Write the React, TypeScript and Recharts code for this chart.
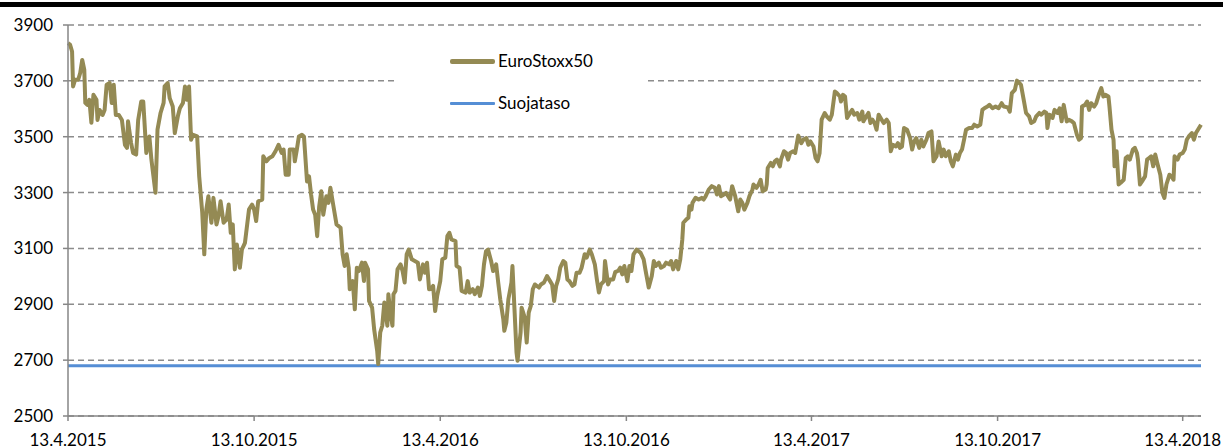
import { LineChart, Line, XAxis, YAxis, CartesianGrid, Legend } from 'recharts';

// päivät alkaen 13.4.2015
const days = [
  0, 2, 4, 5, 7, 10, 12, 14, 16, 17, 19, 21, 23, 25, 28, 29, 31, 34, 36, 38, 41, 43, 45, 47, 50, 53, 56, 58, 59, 62,
  64, 67, 69, 72, 74, 77, 80, 82, 86, 88, 91, 94, 95, 98, 100, 103, 105, 108, 110, 113, 115, 117, 119, 121, 123, 127,
  129, 132, 134, 136, 138, 141, 143, 146, 148, 150, 153, 156, 158, 160, 162, 164, 166, 169, 171, 174, 178, 181, 183,
  185, 187, 191, 192, 195, 198, 201, 204, 207, 210, 212, 214, 217, 218, 222, 223, 225, 227, 230, 232, 235, 237, 239,
  241, 243, 245, 247, 249, 251, 254, 256, 258, 261, 264, 268, 270, 272, 274, 276, 277, 280, 282, 284, 286, 289, 291,
  292, 295, 296, 299, 301, 304, 305, 307, 309, 311, 314, 315, 317, 319, 320, 322, 324, 327, 329, 331, 333, 335, 338,
  341, 344, 346, 349, 351, 353, 355, 357, 359, 361, 363, 366, 368, 371, 373, 375, 377, 381, 382, 385, 387, 391, 393,
  395, 398, 400, 403, 405, 407, 409, 411, 413, 416, 418, 421, 423, 425, 428, 429, 431, 433, 436, 437, 439, 441, 442,
  445, 446, 449, 451, 453, 455, 457, 459, 463, 465, 468, 471, 474, 476, 478, 480, 482, 484, 487, 489, 491, 493, 496,
  498, 500, 503, 505, 508, 510, 513, 515, 518, 520, 522, 524, 527, 528, 531, 533, 536, 538, 541, 543, 545, 547, 550,
  552, 554, 556, 559, 563, 566, 568, 571, 574, 576, 578, 581, 583, 586, 588, 591, 593, 595, 598, 600, 602, 604, 605,
  608, 610, 611, 613, 614, 617, 620, 623, 625, 627, 630, 633, 636, 638, 640, 642, 645, 647, 649, 651, 653, 656, 657,
  659, 661, 663, 665, 668, 670, 673, 674, 677, 679, 681, 683, 686, 687, 688, 691, 693, 695, 697, 700, 701, 704, 706,
  708, 710, 713, 715, 717, 718, 721, 723, 726, 728, 730, 733, 735, 737, 739, 741, 744, 746, 749, 751, 754, 756, 759,
  760, 762, 764, 766, 769, 771, 773, 776, 778, 781, 782, 785, 787, 789, 791, 793, 795, 797, 800, 802, 805, 807, 809,
  811, 814, 816, 818, 820, 822, 825, 828, 830, 832, 834, 837, 839, 841, 844, 846, 849, 851, 854, 856, 859, 861, 863,
  866, 868, 870, 873, 875, 877, 879, 881, 883, 886, 889, 891, 894, 897, 899, 901, 904, 906, 909, 912, 915, 918, 920,
  924, 926, 928, 931, 933, 935, 937, 940, 942, 945, 947, 950, 952, 955, 957, 960, 962, 963, 965, 968, 970, 973, 975,
  977, 979, 982, 984, 987, 989, 992, 994, 996, 997, 1000, 1002, 1004, 1006, 1009, 1011, 1014, 1016, 1018, 1020, 1023,
  1024, 1026, 1028, 1029, 1031, 1033, 1035, 1038, 1040, 1042, 1044, 1047, 1049, 1051, 1052, 1054, 1056, 1059, 1061,
  1063, 1065, 1067, 1069, 1071, 1074, 1076, 1078, 1080, 1083, 1085, 1087, 1088, 1091, 1093, 1096, 1098, 1100, 1102,
  1105, 1107, 1109, 1111, 1114,
];

const euroStoxx50 = [
  3835, 3830, 3805, 3680, 3704, 3704, 3728, 3775, 3740, 3621, 3614, 3632, 3550, 3650, 3632, 3560, 3596, 3578, 3596,
  3686, 3692, 3621, 3686, 3578, 3578, 3560, 3471, 3460, 3555, 3478, 3442, 3436, 3560, 3626, 3626, 3442, 3501, 3418,
  3299, 3525, 3585, 3621, 3680, 3692, 3638, 3608, 3513, 3573, 3602, 3621, 3680, 3632, 3680, 3489, 3507, 3501, 3358,
  3228, 3079, 3239, 3287, 3192, 3281, 3186, 3216, 3269, 3192, 3204, 3257, 3156, 3186, 3025, 3114, 3031, 3096, 3120,
  3240, 3257, 3239, 3198, 3269, 3275, 3430, 3412, 3424, 3430, 3448, 3471, 3442, 3454, 3364, 3364, 3454, 3454, 3412,
  3454, 3501, 3507, 3501, 3340, 3358, 3293, 3239, 3221, 3144, 3251, 3305, 3221, 3287, 3263, 3317, 3251, 3186, 3174,
  3079, 3037, 3079, 3031, 2954, 2983, 2882, 3031, 3019, 3049, 2983, 3049, 3025, 2912, 2888, 2811, 2733, 2686, 2799,
  2823, 2906, 2823, 2936, 2870, 2823, 2936, 2948, 3025, 3043, 3019, 2978, 3079, 3096, 3061, 3055, 3049, 2989, 3043,
  3013, 3049, 2954, 2955, 2966, 2876, 2930, 2983, 3061, 3067, 3144, 3156, 3132, 3126, 3037, 3031, 2948, 2942, 2983,
  2942, 2954, 2936, 2960, 2930, 2966, 3043, 3090, 3096, 3055, 3019, 3043, 2978, 2918, 2847, 2805, 2835, 2918, 2978,
  3037, 2882, 2727, 2698, 2799, 2888, 2853, 2763, 2870, 2894, 2954, 2971, 2960, 2971, 2978, 3001, 2983, 2971, 2912,
  2966, 2989, 3031, 3055, 3049, 2989, 2983, 2966, 2971, 3013, 3013, 3031, 3079, 3067, 3096, 3079, 3043, 2989, 2942,
  2971, 2983, 3055, 2971, 2989, 2989, 3015, 3020, 3031, 3007, 3037, 2983, 3037, 3019, 3079, 3096, 3084, 3061, 3019,
  2960, 3001, 3055, 3037, 3049, 3031, 3037, 3049, 3043, 3055, 3025, 3055, 3025, 3061, 3132, 3192, 3204, 3210, 3251,
  3239, 3263, 3281, 3275, 3281, 3275, 3287, 3311, 3323, 3317, 3293, 3323, 3287, 3293, 3299, 3287, 3275, 3323, 3287,
  3269, 3233, 3275, 3263, 3239, 3263, 3287, 3311, 3329, 3317, 3329, 3346, 3305, 3311, 3329, 3388, 3406, 3394, 3412,
  3418, 3394, 3418, 3448, 3442, 3418, 3442, 3448, 3442, 3483, 3504, 3477, 3489, 3495, 3471, 3483, 3465, 3424, 3412,
  3442, 3561, 3585, 3573, 3561, 3579, 3662, 3656, 3644, 3626, 3650, 3644, 3567, 3585, 3596, 3579, 3585, 3561, 3590,
  3555, 3573, 3585, 3549, 3561, 3549, 3525, 3579, 3561, 3549, 3561, 3549, 3448, 3471, 3465, 3477, 3460, 3465, 3531,
  3525, 3495, 3454, 3483, 3495, 3460, 3489, 3465, 3489, 3513, 3519, 3412, 3430, 3483, 3430, 3454, 3430, 3448, 3412,
  3394, 3436, 3418, 3442, 3454, 3489, 3525, 3531, 3531, 3543, 3537, 3543, 3596, 3602, 3608, 3614, 3602, 3608, 3602,
  3620, 3608, 3605, 3590, 3656, 3668, 3701, 3694, 3686, 3626, 3585, 3573, 3549, 3555, 3573, 3585, 3579, 3590, 3585,
  3531, 3579, 3567, 3596, 3585, 3602, 3555, 3614, 3555, 3561, 3555, 3549, 3507, 3489, 3495, 3608, 3614, 3626, 3596,
  3620, 3608, 3620, 3656, 3674, 3644, 3650, 3644, 3608, 3525, 3489, 3394, 3448, 3329, 3335, 3346, 3424, 3430, 3418,
  3454, 3460, 3442, 3418, 3329, 3340, 3358, 3418, 3424, 3430, 3394, 3436, 3406, 3364, 3299, 3281, 3329, 3364, 3358,
  3346, 3430, 3418, 3436, 3442, 3454, 3489, 3501, 3513, 3489, 3513, 3525, 3543,
];

const suojataso = 2680;

const xTicks = [0, 183, 366, 549, 731, 914, 1096];
const xTickLabels = ['13.4.2015', '13.10.2015', '13.4.2016', '13.10.2016', '13.4.2017', '13.10.2017', '13.4.2018'];
const yTicks = [2500, 2700, 2900, 3100, 3300, 3500, 3700, 3900];

const OLIVE = '#948A54';
const BLUE = '#558ED5';
const FONT = 'Lato, "Open Sans", sans-serif';

const chartData = days.map((day, i) => ({
  day,
  euro: euroStoxx50[i],
  suoja: suojataso,
}));

// selite valkoisella taustalla, peittää ruudukon viivat
function LegendBox() {
  return (
    <div
      style={{
        background: '#fff',
        width: 250,
        height: 98,
        position: 'relative',
        fontFamily: FONT,
        fontSize: 17,
        color: '#000',
      }}
    >
      <div style={{ position: 'absolute', left: 53, top: 27, width: 45, height: 5, background: OLIVE, borderRadius: 2 }} />
      <div style={{ position: 'absolute', left: 101, top: 19, lineHeight: '20px' }}>EuroStoxx50</div>
      <div style={{ position: 'absolute', left: 53, top: 70, width: 45, height: 3, background: BLUE, borderRadius: 1 }} />
      <div style={{ position: 'absolute', left: 101, top: 61, lineHeight: '20px' }}>Suojataso</div>
    </div>
  );
}

export default function App() {
  return (
    <div style={{ position: 'relative', width: 1223, height: 448, background: '#fff', overflow: 'hidden' }}>
      <style>{'body{margin:0}'}</style>
      <div style={{ position: 'absolute', left: 0, top: 2, width: 1223, height: 5, background: '#000' }} />
      <LineChart
        width={1223}
        height={448}
        data={chartData}
        margin={{ top: 25, right: 22, bottom: 0, left: 0 }}
      >
        <CartesianGrid vertical={false} stroke="#8c8c8c" strokeWidth={1.5} strokeDasharray="6 4" />
        <XAxis
          dataKey="day"
          type="number"
          domain={[0, 1114]}
          ticks={xTicks}
          tickFormatter={(v) => xTickLabels[xTicks.indexOf(v)] ?? ''}
          height={32}
          tickSize={5}
          tickMargin={13}
          interval={0}
          axisLine={{ stroke: '#868686', strokeWidth: 1.5 }}
          tickLine={{ stroke: '#868686', strokeWidth: 1.5 }}
          tick={{ fontSize: 17, fill: '#000', fontFamily: FONT }}
        />
        <YAxis
          type="number"
          domain={[2500, 3900]}
          ticks={yTicks}
          width={68}
          tickSize={5}
          tickMargin={10}
          interval={0}
          axisLine={{ stroke: '#868686', strokeWidth: 1.5 }}
          tickLine={{ stroke: '#868686', strokeWidth: 1.5 }}
          tick={{ fontSize: 17, fill: '#000', fontFamily: FONT }}
        />
        <Legend
          layout="vertical"
          align="center"
          verticalAlign="middle"
          wrapperStyle={{ left: 397, top: 32, width: 250, height: 98 }}
          content={() => <LegendBox />}
        />
        <Line
          type="linear"
          dataKey="suoja"
          name="Suojataso"
          stroke={BLUE}
          strokeWidth={3}
          dot={false}
          isAnimationActive={false}
        />
        <Line
          type="linear"
          dataKey="euro"
          name="EuroStoxx50"
          stroke={OLIVE}
          strokeWidth={4}
          strokeLinejoin="round"
          dot={false}
          isAnimationActive={false}
        />
      </LineChart>
    </div>
  );
}
